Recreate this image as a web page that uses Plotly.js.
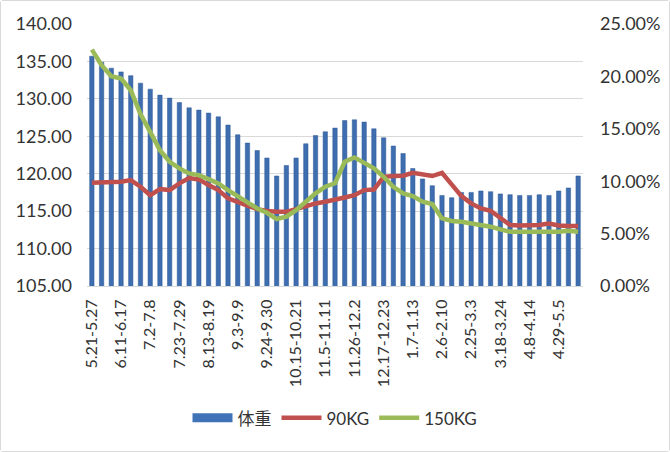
<!DOCTYPE html>
<html>
<head>
<meta charset="utf-8">
<script src="https://cdn.plot.ly/plotly-3.0.1.min.js"></script>
<style>
html,body{margin:0;padding:0;background:#fff;}
#chart{width:668px;height:450px;border:1px solid #d9d9d9;border-radius:3px;}
</style>
</head>
<body>
<div id="chart"></div>
<script>
const weeks = ["5.21-5.27","5.28-6.3","6.4-6.10","6.11-6.17","6.18-6.24","6.25-7.1","7.2-7.8","7.9-7.15","7.16-7.22","7.23-7.29",
"7.30-8.5","8.6-8.12","8.13-8.19","8.20-8.26","8.27-9.2","9.3-9.9","9.10-9.16","9.17-9.23","9.24-9.30","10.1-10.7",
"10.8-10.14","10.15-10.21","10.22-10.28","10.29-11.4","11.5-11.11","11.12-11.18","11.19-11.25","11.26-12.2","12.3-12.9","12.10-12.16",
"12.17-12.23","12.24-12.30","12.31-1.6","1.7-1.13","1.14-1.20","1.21-1.27","2.6-2.10","2.11-2.17","2.18-2.24","2.25-3.3",
"3.4-3.10","3.11-3.17","3.18-3.24","3.25-3.31","4.1-4.7","4.8-4.14","4.15-4.21","4.22-4.28","4.29-5.5","5.6-5.12","5.13-5.19"];
const shownTicks = ["5.21-5.27","6.11-6.17","7.2-7.8","7.23-7.29","8.13-8.19","9.3-9.9","9.24-9.30","10.15-10.21","11.5-11.11",
"11.26-12.2","12.17-12.23","1.7-1.13","2.6-2.10","2.25-3.3","3.18-3.24","4.8-4.14","4.29-5.5"];
const weight = [135.7,134.9,134.1,133.6,133.1,132.1,131.3,130.5,130.1,129.5,
128.8,128.5,128.1,127.6,126.5,125.2,124.1,123.1,122.1,119.7,
121.1,122.1,124.0,125.1,125.6,126.1,127.1,127.2,126.9,126.0,
124.8,123.7,122.7,120.7,119.3,118.4,117.1,116.8,117.5,117.5,
117.7,117.6,117.3,117.2,117.1,117.1,117.2,117.1,117.7,118.1,119.7];
const kg90 = [9.85,9.85,9.85,9.95,10.1,9.47,8.67,9.25,9.15,9.79,
10.3,10.17,9.63,9.15,8.36,7.98,7.66,7.34,7.15,7.08,
7.08,7.34,7.66,7.88,8.04,8.2,8.45,8.67,9.15,9.2,
10.42,10.49,10.52,10.8,10.64,10.49,10.8,9.72,8.58,7.88,
7.4,7.18,6.45,5.82,5.78,5.78,5.82,5.97,5.78,5.72,5.72];
const kg150 = [22.56,21.07,20.02,19.8,18.68,16.4,14.71,12.96,11.85,11.22,
10.74,10.58,10.2,9.79,9.15,8.52,7.98,7.4,6.99,6.39,
6.61,7.24,8.04,8.84,9.47,9.8,11.85,12.27,11.75,11.22,
10.42,9.47,8.84,8.58,8.04,7.82,6.45,6.2,6.13,5.97,
5.88,5.66,5.41,5.18,5.18,5.18,5.12,5.09,5.18,5.28,5.18];

const font = "Lato, 'Noto Sans CJK SC', sans-serif";
const barColor = '#3E6DB0';
const traces = [
  {type:'bar', name:'体重', x:weeks, y:weight, marker:{color:barColor, line:{color:'#2F5A95', width:0.5}}, yaxis:'y', showlegend:false},
  {type:'scatter', mode:'lines', name:'体重', x:[null], y:[null], line:{color:'#4072B8', width:9}, yaxis:'y', showlegend:true},
  {type:'scatter', mode:'lines', name:'90KG', x:weeks, y:kg90.map(v=>v/100), line:{color:'#C0504D', width:4.5}, yaxis:'y2'},
  {type:'scatter', mode:'lines', name:'150KG', x:weeks, y:kg150.map(v=>v/100), line:{color:'#9BBB59', width:4.5}, yaxis:'y2'}
];
const layout = {
  width:668, height:450,
  margin:{l:86, r:86, t:23, b:165},
  paper_bgcolor:'#fff', plot_bgcolor:'#fff',
  font:{family:font, color:'#333', size:17},
  bargap:0.55,
  showlegend:true,
  legend:{orientation:'h', x:0.5, xanchor:'center', y:-0.505, yanchor:'middle', font:{size:17, color:'#333'},
    traceorder:'normal', itemwidth:40},
  xaxis:{type:'category', categoryorder:'array', categoryarray:weeks, tickvals:shownTicks, ticktext:shownTicks,
    tickangle:-90, tickfont:{size:16, color:'#333'}, showgrid:false, showline:true, linecolor:'#d9d9d9', ticks:'',
    ticklabelstandoff:6, automargin:false},
  yaxis:{range:[105,140], dtick:5, tick0:105, tickformat:'.2f', showgrid:true, gridcolor:'#d9d9d9', gridwidth:1,
    zeroline:false, showline:false, ticks:'', tickfont:{size:18, color:'#333'}, ticklabelstandoff:14, automargin:false},
  yaxis2:{range:[0,0.25], dtick:0.05, tickformat:'.2%', overlaying:'y', side:'right', showgrid:false, zeroline:false,
    showline:false, ticks:'', tickfont:{size:18, color:'#333'}, ticklabelstandoff:16, automargin:false}
};
Plotly.newPlot('chart', traces, layout, {displayModeBar:false, staticPlot:true});
</script>
</body>
</html>
